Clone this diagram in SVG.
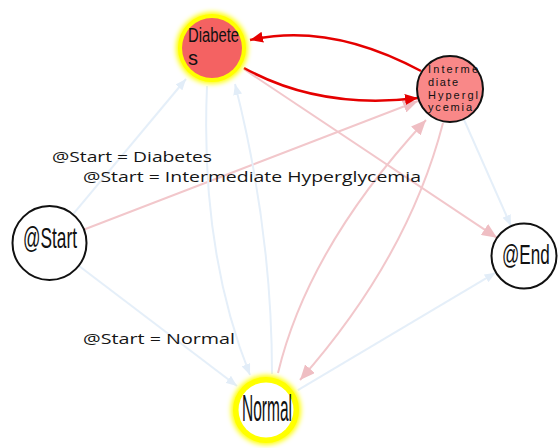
<svg xmlns="http://www.w3.org/2000/svg" width="558" height="448" viewBox="0 0 558 448">
  <style>
    .blue { fill: none; stroke: #e5eff9; stroke-width: 2; }
    .pink { fill: none; stroke: #f2c7cb; stroke-width: 2; }
    .red  { fill: none; stroke: #e50000; stroke-width: 2.5; }
    .lbl  { font-family: "Open Sans", "Noto Sans", sans-serif; font-size: 15px; fill: #151515; }
    .big  { font-family: "Liberation Sans", Arial, sans-serif; fill: #111; }
    .small { font-family: "Liberation Sans", Arial, sans-serif; font-size: 11px; fill: #111; }
  </style>
  <defs>
    <marker id="ahBlue" markerUnits="userSpaceOnUse" markerWidth="11" markerHeight="9" refX="11" refY="4.5" orient="auto">
      <path d="M0,0 L11,4.5 L0,9 z" fill="#e2edf8"/>
    </marker>
    <marker id="ahPink" markerUnits="userSpaceOnUse" markerWidth="15" markerHeight="13" refX="15" refY="6.5" orient="auto">
      <path d="M0,0 L15,6.5 L0,13 z" fill="#efbec3"/>
    </marker>
    <marker id="ahRed" markerUnits="userSpaceOnUse" markerWidth="13" markerHeight="11" refX="13" refY="5.5" orient="auto">
      <path d="M0,0 L13,5.5 L0,11 z" fill="#e50000"/>
    </marker>
    <filter id="glow" x="-50%" y="-50%" width="200%" height="200%">
      <feGaussianBlur stdDeviation="2.5"/>
    </filter>
  </defs>

  <rect width="558" height="448" fill="#ffffff"/>

  <!-- connectors -->
  <g id="edges">
    <line class="blue" x1="72.7" y1="214.6" x2="186" y2="79" marker-end="url(#ahBlue)"/>
    <line class="pink" x1="83.5" y1="229.7" x2="418" y2="101" marker-end="url(#ahPink)"/>
    <line class="blue" x1="78.4" y1="265.5" x2="237" y2="386" marker-end="url(#ahBlue)"/>
    <line class="pink" x1="243.7" y1="69" x2="497" y2="237.8" marker-end="url(#ahPink)"/>
    <line class="blue" x1="463.7" y1="119" x2="511" y2="226" marker-end="url(#ahBlue)"/>
    <line class="blue" x1="297.9" y1="390.2" x2="495.6" y2="272.7" marker-end="url(#ahBlue)"/>
    <path class="blue" d="M207,86 Q200,250 250,375" marker-end="url(#ahBlue)"/>
    <path class="blue" d="M272,374 Q272,230 235,84" marker-end="url(#ahBlue)"/>
    <path class="pink" d="M278,373 Q308,247.5 426,120" marker-end="url(#ahPink)"/>
    <path class="pink" d="M443,123 Q408,258 300,380" marker-end="url(#ahPink)"/>
    <path class="red" d="M421,71 Q330,22 250,40" marker-end="url(#ahRed)"/>
    <path class="red" d="M244,68 Q320,110 418,98" marker-end="url(#ahRed)"/>
  </g>

  <g id="node-diabetes">
    <circle cx="212" cy="48" r="36" fill="#ffff00" filter="url(#glow)"/>
    <circle cx="212" cy="48" r="34" fill="#ffff00"/>
    <circle cx="212" cy="48" r="30" fill="#f46262"/>
    <text class="big" x="188" y="42" font-size="20" fill="#4d0c0c" textLength="51" lengthAdjust="spacingAndGlyphs">Diabete</text>
    <text class="big" x="188" y="65" font-size="20" fill="#4d0c0c">s</text>
  </g>

  <g id="node-intermediate">
    <circle cx="450" cy="89" r="33" fill="#f98888" stroke="#111" stroke-width="2"/>
    <text class="small" x="428" y="72.5" textLength="50" lengthAdjust="spacing">Interme</text>
    <text class="small" x="428" y="86" textLength="30" lengthAdjust="spacing">diate</text>
    <text class="small" x="428" y="98.5" textLength="50" lengthAdjust="spacing">Hypergl</text>
    <text class="small" x="428" y="111" textLength="44" lengthAdjust="spacing">ycemia</text>
  </g>

  <g id="node-start">
    <circle cx="49.5" cy="243" r="37" fill="#ffffff" stroke="#111" stroke-width="2"/>
    <text class="big" x="23" y="248" font-size="30" textLength="54" lengthAdjust="spacingAndGlyphs">@Start</text>
  </g>

  <g id="node-end">
    <circle cx="524" cy="256" r="32.5" fill="#ffffff" stroke="#111" stroke-width="2"/>
    <text class="big" transform="translate(502,264) scale(0.61,1)" font-size="28">@End</text>
  </g>

  <g id="node-normal">
    <circle cx="266" cy="410" r="35" fill="#ffff00" filter="url(#glow)"/>
    <circle cx="266" cy="410" r="33" fill="#ffff00"/>
    <circle cx="266" cy="410" r="27.5" fill="#ffffff"/>
    <text class="big" x="242" y="421" font-size="37" textLength="50" lengthAdjust="spacingAndGlyphs">Normal</text>
  </g>

  <g id="labels">
    <text class="lbl" x="52" y="161.5" textLength="160" lengthAdjust="spacingAndGlyphs">@Start = Diabetes</text>
    <text class="lbl" x="83" y="182" textLength="338" lengthAdjust="spacingAndGlyphs">@Start = Intermediate Hyperglycemia</text>
    <text class="lbl" x="83" y="344" textLength="152" lengthAdjust="spacingAndGlyphs">@Start = Normal</text>
  </g>
</svg>
